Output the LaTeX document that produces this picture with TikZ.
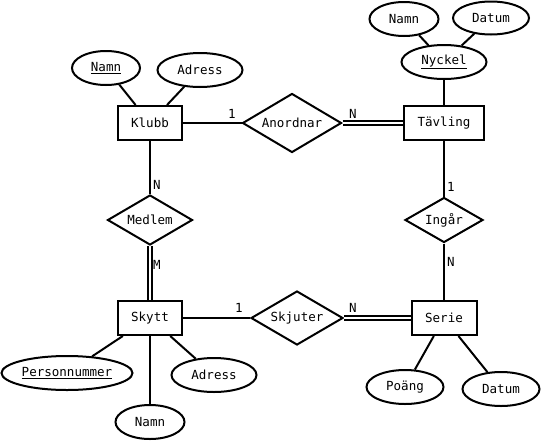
\documentclass[tikz,border=0pt]{standalone}
\usepackage{fontspec}
\setmainfont{DejaVu Sans Mono}
\usetikzlibrary{shapes.geometric}
\tikzset{
  entity/.style={draw, rectangle, inner sep=0pt, minimum height=25.5pt},
  attr/.style={draw, ellipse, inner sep=0pt, minimum height=25.5pt},
  rel/.style={draw, diamond, inner sep=0pt, aspect=1.7},
  card/.style={inner sep=0pt},
  dbl/.style={double, line width=1pt, double distance=1.8pt},
}
\begin{document}
\begin{tikzpicture}[x=0.75pt,y=-0.75pt,line width=1.5pt,font=\fontsize{9.4}{11}\selectfont]
\useasboundingbox (0,0) rectangle (542,443);
% entities
\node[entity, minimum width=48pt] (klubb) at (150,123) {Klubb};
\node[entity, minimum width=60pt] (tavling) at (444,123) {Tävling};
\node[entity, minimum width=48pt] (skytt) at (150,318) {Skytt};
\node[entity, minimum width=48.75pt] (serie) at (444,318) {Serie};
% relations
\node[rel, minimum width=74.25pt, minimum height=44.25pt] (anordnar) at (292,123) {Anordnar};
\node[rel, minimum width=63.75pt, minimum height=37.5pt] (medlem) at (150,220) {Medlem};
\node[rel, minimum width=58.5pt, minimum height=33.75pt] (ingar) at (444,220) {Ingår};
\node[rel, minimum width=69pt, minimum height=40.5pt] (skjuter) at (297,318) {Skjuter};
% attributes
\node[attr, minimum width=51pt] (knamn) at (106,68) {\underline{Namn}};
\node[attr, minimum width=63.75pt] (kadress) at (200,70) {Adress};
\node[attr, minimum width=63.75pt] (nyckel) at (444,62) {\underline{Nyckel}};
\node[attr, minimum width=51.75pt] (tnamn) at (404,19) {Namn};
\node[attr, minimum width=57pt, minimum height=24.75pt] (tdatum) at (491,18) {Datum};
\node[attr, minimum width=98.25pt] (pnr) at (67,373) {\underline{Personnummer}};
\node[attr, minimum width=63.75pt] (sadress) at (214,375) {Adress};
\node[attr, minimum width=51.75pt] (snamn) at (150,422) {Namn};
\node[attr, minimum width=57.75pt] (poang) at (405,387) {Poäng};
\node[attr, minimum width=57.75pt] (sdatum) at (501,389) {Datum};
% connectors
\draw (klubb) -- (knamn);
\draw (klubb) -- (kadress);
\draw (klubb) -- (anordnar);
\draw[dbl] (anordnar) -- (tavling);
\draw (tavling) -- (nyckel);
\draw (nyckel) -- (tnamn);
\draw (nyckel) -- (tdatum);
\draw (klubb) -- (medlem);
\draw[dbl] (medlem) -- (skytt);
\draw (tavling) -- (ingar);
\draw (ingar) -- (serie);
\draw (skytt) -- (skjuter);
\draw[dbl] (skjuter) -- (serie);
\draw (skytt) -- (pnr);
\draw (skytt) -- (sadress);
\draw (skytt) -- (snamn);
\draw (serie) -- (poang);
\draw (serie) -- (sdatum);
% cardinalities
\node[card] (c1) at (232,114) {1};
\node[card] (c2) at (353,114) {N};
\node[card] (c3) at (157,185) {N};
\node[card] (c4) at (157,265) {M};
\node[card] (c5) at (451,187) {1};
\node[card] (c6) at (451,262) {N};
\node[card] (c7) at (239,308) {1};
\node[card] (c8) at (353,308) {N};
\end{tikzpicture}
\end{document}
